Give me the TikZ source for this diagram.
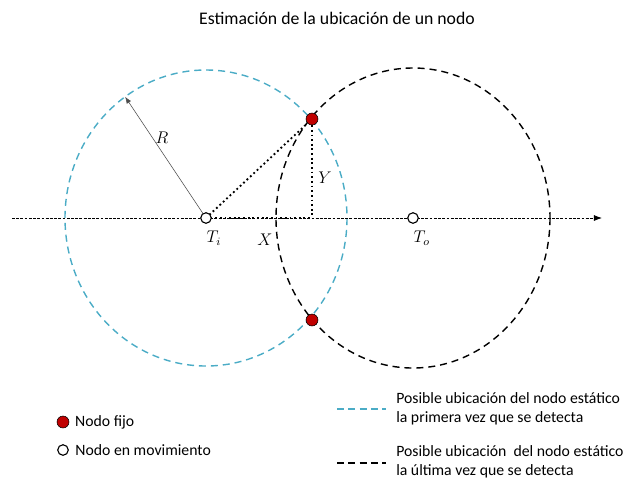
\documentclass[tikz,border=0pt]{standalone}
\usepackage{fontspec}
\setmainfont{Carlito}
\usepackage{amsmath}
\usetikzlibrary{arrows.meta,calc,positioning,shapes}

\definecolor{circblue}{RGB}{75,172,198}
\definecolor{nodered}{RGB}{192,0,0}

\begin{document}
\begin{tikzpicture}[x=0.025cm,y=-0.025cm,>=Latex]
	\tikzstyle{movil} = [draw, circle, thick, fill=white, minimum size=7.5pt, inner sep=0pt]
	\tikzstyle{fijo} = [draw, circle, fill=nodered, minimum size=8.5pt, inner sep=0pt]
	\tikzstyle{first} = [circblue, line width=1pt, dash pattern=on 5pt off 3.5pt]
	\tikzstyle{last} = [black, line width=1pt, dash pattern=on 5pt off 3.5pt]
	\tikzstyle{leyenda} = [anchor=west, inner sep=0pt, font=\fontsize{11.2}{13.5}\selectfont, align=left]

	\useasboundingbox (0,0) rectangle (631,483);

	\node [font=\fontsize{12.6}{15}\selectfont] (titulo) at (337,18) {Estimación de la ubicación de un nodo};

	% eje y circunferencias
	\coordinate (izq) at (12,218);
	\coordinate (der) at (602,218);
	\coordinate (Ti) at (206,218);
	\coordinate (To) at (413,218);
	\draw [first] (Ti) ellipse [x radius=141, y radius=148];
	\draw [last] (To) ellipse [x radius=137, y radius=150];
	\draw [->, dash pattern=on 2pt off 1pt, line width=0.6pt] (izq) -- (der);

	% radio
	\coordinate (borde) at ($(Ti)+(235:141 and 148)$);
	\draw [->, gray!60!black, thin] (Ti) -- (borde);
	\node [font=\large] (R) at (162,138) {$R$};

	% nodos
	\coordinate (pie) at (312,218);
	\node [fijo] (arriba) at (312,119) {};
	\node [fijo] (abajo) at (312,320) {};
	\draw [dotted, line width=1.3pt] (Ti) -- (arriba);
	\draw [dotted, line width=1.3pt] (arriba) -- (pie);
	\draw [dotted, line width=1.3pt] (Ti) -- (pie);
	\node [movil] (nTi) at (Ti) {};
	\node [movil] (nTo) at (To) {};
	\node [font=\large, below right = 3pt and -6pt of nTi] (lTi) {$T_i$};
	\node [font=\large, below right = 3pt and -6pt of nTo] (lTo) {$T_o$};
	\node [font=\large] (lX) at (265,240) {$X$};
	\node [font=\large] (lY) at (325,178) {$Y$};

	% leyenda
	\node [fijo] (lfijo) at (63,422) {};
	\node [leyenda, right = 4pt of lfijo] (tfijo) {Nodo fijo};
	\node [movil] (lmovil) at (63,450) {};
	\node [leyenda, right = 4.5pt of lmovil] (tmovil) {Nodo en movimiento};

	\coordinate (a1) at (337,409);
	\coordinate (b1) at (386,409);
	\draw [first, line width=1.2pt, dash pattern=on 5pt off 3pt] (a1) -- (b1);
	\node [leyenda] (t1) at (396,409) {Posible ubicación del nodo estático\\la primera vez que se detecta};
	\coordinate (a2) at (337,463);
	\coordinate (b2) at (386,463);
	\draw [last, line width=1.2pt, dash pattern=on 5pt off 3pt] (a2) -- (b2);
	\node [leyenda] (t2) at (396,462) {Posible ubicación \ del nodo estático\\la última vez que se detecta};
\end{tikzpicture}
\end{document}
